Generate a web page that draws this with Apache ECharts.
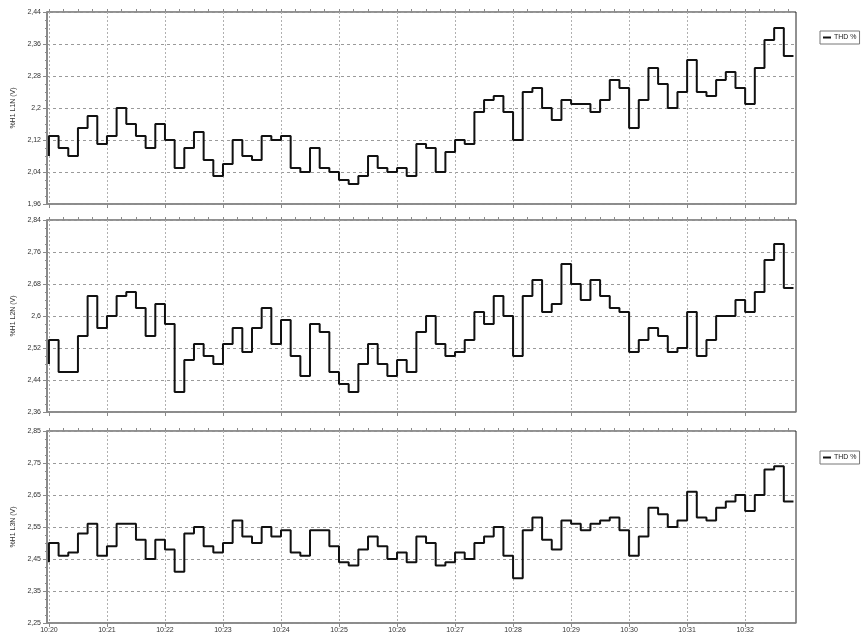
<!DOCTYPE html>
<html>
<head>
<meta charset="utf-8">
<script src="https://cdn.jsdelivr.net/npm/echarts@6/dist/echarts.min.js"></script>
<style>
  html, body { margin: 0; padding: 0; background: #fff; }
  #chart { width: 862px; height: 635px; }
</style>
</head>
<body>
<div id="chart"></div>
<script>
// Sampling: one reading every 10 s starting at 10:20:00
const START_SEC = 10 * 3600 + 20 * 60;
const STEP_SEC = 10;

// THD readings per phase (V); first value is the opening sample
const l1Values = [2.08,
  2.13, 2.10, 2.08, 2.15, 2.18, 2.11, 2.13, 2.20, 2.16, 2.13, 2.10, 2.16, 2.12, 2.05, 2.10, 2.14,
  2.07, 2.03, 2.06, 2.12, 2.08, 2.07, 2.13, 2.12, 2.13, 2.05, 2.04, 2.10, 2.05, 2.04, 2.02,
  2.01, 2.03, 2.08, 2.05, 2.04, 2.05, 2.03, 2.11, 2.10, 2.04, 2.09, 2.12, 2.11, 2.19, 2.22, 2.23,
  2.19, 2.12, 2.24, 2.25, 2.20, 2.17, 2.22, 2.21, 2.21, 2.19, 2.22, 2.27, 2.25, 2.15, 2.22, 2.30,
  2.26, 2.20, 2.24, 2.32, 2.24, 2.23, 2.27, 2.29, 2.25, 2.21, 2.30, 2.37, 2.40, 2.33];
const l2Values = [2.48,
  2.54, 2.46, 2.46, 2.55, 2.65, 2.57, 2.60, 2.65, 2.66, 2.62, 2.55, 2.63, 2.58, 2.41, 2.49, 2.53,
  2.50, 2.48, 2.53, 2.57, 2.51, 2.57, 2.62, 2.53, 2.59, 2.50, 2.45, 2.58, 2.56, 2.46, 2.43,
  2.41, 2.48, 2.53, 2.48, 2.45, 2.49, 2.46, 2.56, 2.60, 2.53, 2.50, 2.51, 2.54, 2.61, 2.58, 2.65,
  2.60, 2.50, 2.65, 2.69, 2.61, 2.63, 2.73, 2.68, 2.64, 2.69, 2.65, 2.62, 2.61, 2.51, 2.54, 2.57,
  2.55, 2.51, 2.52, 2.61, 2.50, 2.54, 2.60, 2.60, 2.64, 2.61, 2.66, 2.74, 2.78, 2.67];
const l3Values = [2.44,
  2.50, 2.46, 2.47, 2.53, 2.56, 2.46, 2.49, 2.56, 2.56, 2.51, 2.45, 2.51, 2.48, 2.41, 2.53, 2.55,
  2.49, 2.47, 2.50, 2.57, 2.52, 2.50, 2.55, 2.52, 2.54, 2.47, 2.46, 2.54, 2.54, 2.49, 2.44,
  2.43, 2.48, 2.52, 2.49, 2.45, 2.47, 2.44, 2.52, 2.50, 2.43, 2.44, 2.47, 2.45, 2.50, 2.52, 2.55,
  2.46, 2.39, 2.54, 2.58, 2.51, 2.48, 2.57, 2.56, 2.54, 2.56, 2.57, 2.58, 2.54, 2.46, 2.52, 2.61,
  2.59, 2.55, 2.57, 2.66, 2.58, 2.57, 2.61, 2.63, 2.65, 2.60, 2.65, 2.73, 2.74, 2.63];

// Axis settings
const timeTickLabels = ['10:20','10:21','10:22','10:23','10:24','10:25','10:26','10:27','10:28','10:29','10:30','10:31','10:32'];
const panelNames = ['%H1 L1N (V)', '%H1 L2N (V)', '%H1 L3N (V)'];
const yRanges = [[1.96, 2.44, 0.08], [2.36, 2.84, 0.08], [2.25, 2.85, 0.10]];
const seriesName = 'THD %';

const toSec = s => { const p = s.split(':'); return (+p[0]) * 3600 + (+p[1]) * 60; };
const majorTicks = timeTickLabels.map(toSec);
const xMin = START_SEC - 2;
const xMax = START_SEC + 772.6;
const minorTicks = [];
for (let t = START_SEC; t <= xMax; t += 15) minorTicks.push(t);

const pad2 = n => String(n).padStart(2, '0');
const fmtTime = v => pad2(Math.floor(v / 3600)) + ':' + pad2(Math.floor((v % 3600) / 60));
const fmtNum = v => String(+v.toFixed(2)).replace('.', ',');

const toPoints = vals => vals.map((v, i) => [START_SEC + i * STEP_SEC, v]);

const grids = [0, 1, 2].map(i => ({
  left: 47, width: 749, top: [12, 220, 431][i], height: 192,
  show: true, borderColor: '#222', borderWidth: 1, backgroundColor: '#fff'
}));

const font = 'Liberation Sans, Arial, sans-serif';
const xAxes = [];
[0, 1, 2].forEach(i => {
  xAxes.push({
    type: 'value', gridIndex: i, min: xMin, max: xMax,
    axisLine: { show: true, onZero: false, lineStyle: { color: '#8a8a8a', width: 1.5 } },
    axisTick: { show: true, length: 4, customValues: majorTicks, lineStyle: { color: '#8a8a8a' } },
    axisLabel: { show: i === 2, customValues: majorTicks, formatter: fmtTime, fontSize: 7, color: '#333', fontFamily: font, margin: 4 },
    splitLine: { show: true, lineStyle: { color: '#b0b0b0', type: [2, 2], width: 1 } }
  });
});
[0, 1, 2].forEach(i => {
  xAxes.push({
    type: 'value', gridIndex: i, min: xMin, max: xMax,
    axisLine: { show: false },
    axisTick: { show: true, length: 3, customValues: minorTicks, lineStyle: { color: '#8a8a8a' } },
    axisLabel: { show: false },
    splitLine: { show: false }
  });
});

const yAxes = [0, 1, 2].map(i => ({
  type: 'value', gridIndex: i,
  min: yRanges[i][0], max: yRanges[i][1], interval: yRanges[i][2],
  name: panelNames[i], nameLocation: 'middle', nameGap: 30, nameRotate: 90,
  nameTextStyle: { fontSize: 7, color: '#333', fontFamily: font },
  axisLine: { show: true, lineStyle: { color: '#8a8a8a', width: 2 } },
  axisTick: { show: true, length: 4, lineStyle: { color: '#8a8a8a' } },
  minorTick: { show: true, splitNumber: 4, length: 2, lineStyle: { color: '#8a8a8a' } },
  axisLabel: { fontSize: 7, color: '#333', fontFamily: font, margin: 6, formatter: fmtNum },
  splitLine: { show: true, lineStyle: { color: '#9a9a9a', type: [3, 3], width: 1 } }
}));

const seriesData = [l1Values, l2Values, l3Values];
const series = seriesData.map((vals, i) => ({
  name: seriesName, type: 'line', step: 'start',
  xAxisIndex: i, yAxisIndex: i,
  data: toPoints(vals), showSymbol: false, symbol: 'none',
  lineStyle: { color: '#111', width: 2 }, itemStyle: { color: '#111' },
  animation: false
}));

const legendBase = {
  data: [seriesName], left: 820, icon: 'rect', itemWidth: 8, itemHeight: 2, itemGap: 3,
  borderColor: '#777', borderWidth: 1, padding: [3, 3],
  textStyle: { fontSize: 7, color: '#222', fontFamily: font, padding: [0, 0, 0, -2] }, selectedMode: false
};

const chart = echarts.init(document.getElementById('chart'), null, { renderer: 'canvas' });
chart.setOption({
  animation: false,
  backgroundColor: '#fff',
  grid: grids,
  xAxis: xAxes,
  yAxis: yAxes,
  legend: [Object.assign({ top: 31 }, legendBase), Object.assign({ top: 451 }, legendBase)],
  series: series
});
</script>
</body>
</html>
